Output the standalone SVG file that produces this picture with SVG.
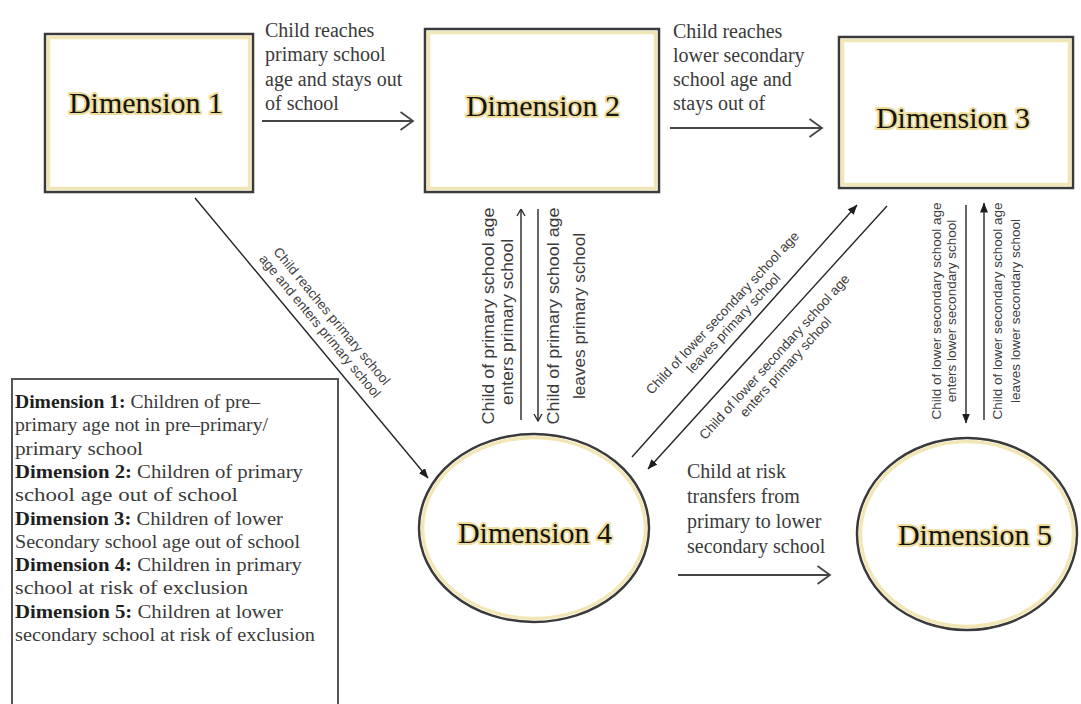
<svg xmlns="http://www.w3.org/2000/svg" width="1081" height="704" viewBox="0 0 1081 704">
  <style>
    .frame { fill: #ffffff; stroke: #3a3a3a; stroke-width: 2.5; }
    .halo { fill: none; stroke: #f2e6b6; stroke-width: 3.5; }
    .dim { font-family: "Liberation Serif", "Times New Roman", serif; font-size: 30px; fill: #141414; stroke: #efdd9c; stroke-width: 4; stroke-linejoin: round; paint-order: stroke; text-anchor: middle; }
    .lbl { font-family: "Liberation Serif", "Times New Roman", serif; font-size: 20px; fill: #3a3a3a; }
    .leg { font-family: "Liberation Serif", "Times New Roman", serif; font-size: 18.5px; fill: #3a3a3a; }
    .leg .b { font-weight: bold; fill: #1e1e1e; }
    .sm { font-family: "Liberation Sans", Arial, sans-serif; font-size: 13.5px; fill: #3c3c3c; text-anchor: middle; }
    .md { font-family: "Liberation Sans", Arial, sans-serif; font-size: 16px; fill: #3c3c3c; text-anchor: middle; }
    .thick { fill: none; stroke: #454545; stroke-width: 2; }
    .thin { fill: none; stroke: #262626; stroke-width: 1.4; }
  </style>
  <defs>
    <marker id="chev" viewBox="0 0 15 20" refX="13.5" refY="10" markerWidth="15" markerHeight="20" markerUnits="userSpaceOnUse" orient="auto">
      <path d="M1,1 L13.5,10 L1,19" fill="none" stroke="#454545" stroke-width="1.8"/>
    </marker>
    <marker id="tri" viewBox="0 0 10 8" refX="9.5" refY="4" markerWidth="10" markerHeight="8" markerUnits="userSpaceOnUse" orient="auto">
      <path d="M0,0 L10,4 L0,8 Z" fill="#1e1e1e"/>
    </marker>
    <marker id="open" viewBox="0 0 8 10" refX="7.5" refY="5" markerWidth="8" markerHeight="10" markerUnits="userSpaceOnUse" orient="auto">
      <path d="M0.5,1 L7.5,5 L0.5,9" fill="none" stroke="#262626" stroke-width="1.3"/>
    </marker>
  </defs>

  <rect width="1081" height="704" fill="#ffffff"/>

  <!-- states -->
  <g id="dimension-1">
    <rect class="frame" x="45" y="34" width="208" height="158"/>
    <rect class="halo" x="48.5" y="37.5" width="201" height="151"/>
    <text class="dim" x="146" y="113">Dimension 1</text>
  </g>
  <g id="dimension-2">
    <rect class="frame" x="425" y="29" width="234" height="163"/>
    <rect class="halo" x="428.5" y="32.5" width="227" height="156"/>
    <text class="dim" x="543" y="116">Dimension 2</text>
  </g>
  <g id="dimension-3">
    <rect class="frame" x="839" y="37" width="234" height="151"/>
    <rect class="halo" x="842.5" y="40.5" width="227" height="144"/>
    <text class="dim" x="953" y="128">Dimension 3</text>
  </g>
  <g id="dimension-4">
    <ellipse class="frame" cx="534" cy="528" rx="115" ry="94" stroke-width="2"/>
    <ellipse class="halo" cx="534" cy="528" rx="111.5" ry="90.5"/>
    <text class="dim" x="535" y="543">Dimension 4</text>
  </g>
  <g id="dimension-5">
    <ellipse class="frame" cx="967" cy="534" rx="110" ry="96" stroke-width="2"/>
    <ellipse class="halo" cx="967" cy="534" rx="106.5" ry="92.5"/>
    <text class="dim" x="975" y="545">Dimension 5</text>
  </g>

  <!-- key -->
  <g id="legend">
    <rect x="12" y="379" width="326" height="340" fill="#ffffff" stroke="#555555" stroke-width="2"/>
    <text class="leg" x="15" y="408" textLength="245" lengthAdjust="spacingAndGlyphs"><tspan class="b">Dimension 1:</tspan> Children of pre–</text>
    <text class="leg" x="15" y="431" textLength="253" lengthAdjust="spacingAndGlyphs">primary age not in pre–primary/</text>
    <text class="leg" x="15" y="455" textLength="128" lengthAdjust="spacingAndGlyphs">primary school</text>
    <text class="leg" x="15" y="478" textLength="288" lengthAdjust="spacingAndGlyphs"><tspan class="b">Dimension 2:</tspan> Children of primary</text>
    <text class="leg" x="15" y="501" textLength="223" lengthAdjust="spacingAndGlyphs">school age out of school</text>
    <text class="leg" x="15" y="525" textLength="268" lengthAdjust="spacingAndGlyphs"><tspan class="b">Dimension 3:</tspan> Children of lower</text>
    <text class="leg" x="15" y="548" textLength="285" lengthAdjust="spacingAndGlyphs">Secondary school age out of school</text>
    <text class="leg" x="15" y="571" textLength="287" lengthAdjust="spacingAndGlyphs"><tspan class="b">Dimension 4:</tspan> Children in primary</text>
    <text class="leg" x="15" y="594" textLength="233" lengthAdjust="spacingAndGlyphs">school at risk of exclusion</text>
    <text class="leg" x="15" y="618" textLength="268" lengthAdjust="spacingAndGlyphs"><tspan class="b">Dimension 5:</tspan> Children at lower</text>
    <text class="leg" x="15" y="641" textLength="300" lengthAdjust="spacingAndGlyphs">secondary school at risk of exclusion</text>
  </g>

  <!-- transitions -->
  <g id="connectors">
    <path class="thick" d="M262,121 H413" marker-end="url(#chev)"/>
    <path class="thick" d="M670,128 H822" marker-end="url(#chev)"/>
    <path class="thick" d="M678,575 H830" marker-end="url(#chev)"/>
    <path class="thin" d="M195,198 L428,478" marker-end="url(#tri)"/>
    <path class="thin" d="M521,420 L521,209" marker-end="url(#open)"/>
    <path class="thin" d="M538,209 L538,421" marker-end="url(#open)"/>
    <path class="thin" d="M632,457 L857,205" marker-end="url(#tri)"/>
    <path class="thin" d="M887,206 L648,469" marker-end="url(#tri)"/>
    <path class="thin" d="M966,205 L966,423" marker-end="url(#tri)"/>
    <path class="thin" d="M984,420 L984,203" marker-end="url(#tri)"/>

    <g id="label-d1-d2" class="lbl">
      <text x="265" y="37">Child reaches</text>
      <text x="265" y="61">primary school</text>
      <text x="265" y="86">age and stays out</text>
      <text x="265" y="110">of school</text>
    </g>
    <g id="label-d2-d3" class="lbl">
      <text x="673" y="38">Child reaches</text>
      <text x="673" y="62">lower secondary</text>
      <text x="673" y="86">school age and</text>
      <text x="673" y="110">stays out of</text>
    </g>
    <g id="label-d4-d5" class="lbl">
      <text x="687" y="478">Child at risk</text>
      <text x="687" y="503">transfers from</text>
      <text x="687" y="528">primary to lower</text>
      <text x="687" y="553">secondary school</text>
    </g>

    <g id="label-d1-d4" class="sm" transform="translate(326,321) rotate(50.3)">
      <text x="0" y="-3">Child reaches primary school</text>
      <text x="0" y="12.5">age and enters primary school</text>
    </g>
    <g id="label-d2-d4" class="md" transform="translate(0,316) rotate(-90)">
      <text x="0" y="494" textLength="217" lengthAdjust="spacingAndGlyphs">Child of primary school age</text>
      <text x="-6" y="513" textLength="166" lengthAdjust="spacingAndGlyphs">enters primary school</text>
    </g>
    <g id="label-d4-d2" class="md" transform="translate(0,316) rotate(-90)">
      <text x="0" y="559" textLength="217" lengthAdjust="spacingAndGlyphs">Child of primary school age</text>
      <text x="0" y="585" textLength="166" lengthAdjust="spacingAndGlyphs">leaves primary school</text>
    </g>
    <g id="label-d4-d3" class="sm" transform="translate(728,318) rotate(-47)">
      <text x="0" y="-3">Child of lower secondary school age</text>
      <text x="0" y="12">leaves primary school</text>
    </g>
    <g id="label-d3-d4" class="sm" transform="translate(780,362) rotate(-48)">
      <text x="0" y="-3">Child of lower secondary school age</text>
      <text x="0" y="12">enters primary school</text>
    </g>
    <g id="label-d3-d5" class="sm" transform="translate(0,311) rotate(-90)">
      <text x="0" y="941">Child of lower secondary school age</text>
      <text x="0" y="956">enters lower secondary school</text>
    </g>
    <g id="label-d5-d3" class="sm" transform="translate(0,311) rotate(-90)">
      <text x="0" y="1002">Child of lower secondary school age</text>
      <text x="0" y="1020">leaves lower secondary school</text>
    </g>
  </g>
</svg>
